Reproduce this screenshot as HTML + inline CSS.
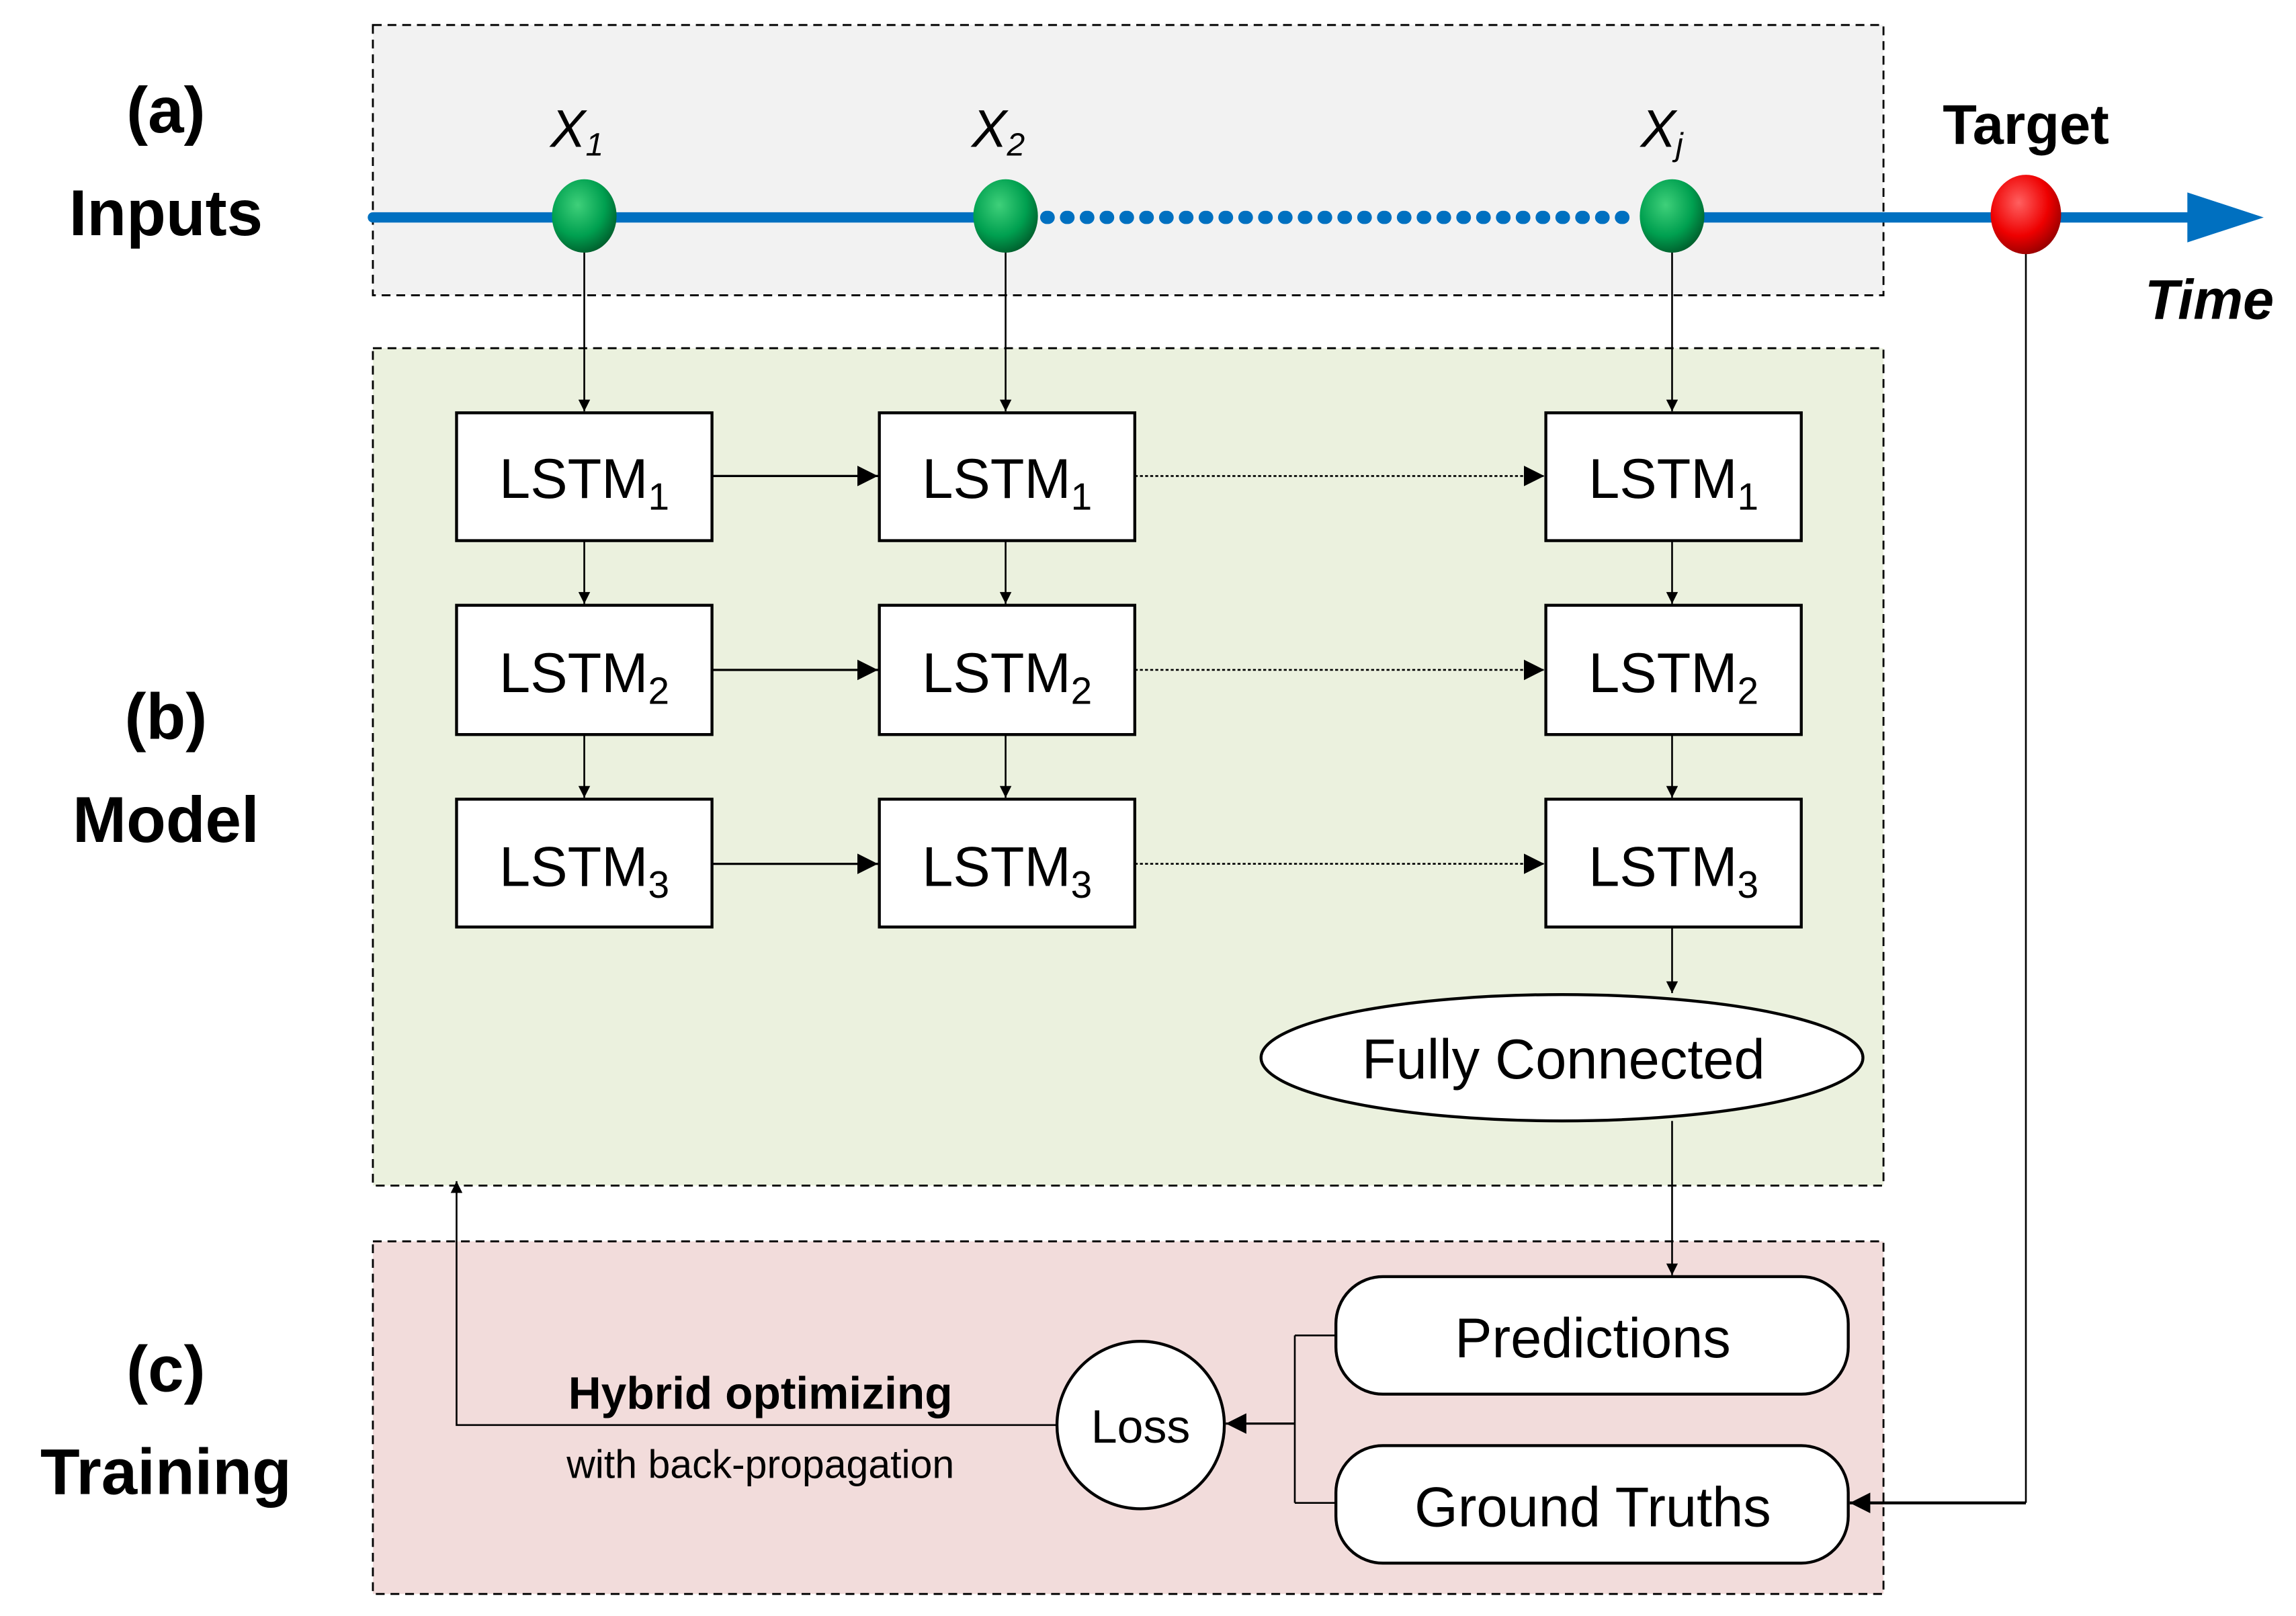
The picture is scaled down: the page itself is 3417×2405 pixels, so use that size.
<!DOCTYPE html>
<html><head><meta charset="utf-8"><style>html,body{margin:0;padding:0;background:#fff}svg{display:block}text{font-family:"Liberation Sans",sans-serif}</style></head><body>
<svg width="3417" height="2405" viewBox="0 0 1564 1100" preserveAspectRatio="none" xmlns="http://www.w3.org/2000/svg">
<defs>
<marker id="ah" viewBox="0 0 10 10" refX="10" refY="5" markerWidth="8" markerHeight="8" markerUnits="userSpaceOnUse" orient="auto"><path d="M0,0L10,5L0,10z" fill="#000"/></marker>
<marker id="ah2" viewBox="0 0 10 10" refX="10" refY="5" markerWidth="14" markerHeight="14" markerUnits="userSpaceOnUse" orient="auto"><path d="M0,0L10,5L0,10z" fill="#000"/></marker>
<radialGradient id="gg" cx="0.4" cy="0.35" r="0.7"><stop offset="0" stop-color="#3fd07a"/><stop offset="0.6" stop-color="#00a050"/><stop offset="1" stop-color="#005a2a"/></radialGradient>
<radialGradient id="rg" cx="0.4" cy="0.35" r="0.7"><stop offset="0" stop-color="#ff6060"/><stop offset="0.6" stop-color="#ee0000"/><stop offset="1" stop-color="#900000"/></radialGradient>
</defs>
<rect x="254" y="17" width="1029" height="184" fill="#f2f2f2" stroke="#000" stroke-width="1.3" stroke-dasharray="6,4"/>
<rect x="254" y="237" width="1029" height="570" fill="#ebf1de" stroke="#000" stroke-width="1.3" stroke-dasharray="6,4"/>
<rect x="254" y="845" width="1029" height="240" fill="#f2dcdb" stroke="#000" stroke-width="1.3" stroke-dasharray="6,4"/>
<g font-weight="bold" font-size="44" text-anchor="middle">
<text x="113" y="90">(a)</text><text x="113" y="160">Inputs</text>
<text x="113" y="503">(b)</text><text x="113" y="573">Model</text>
<text x="113" y="947">(c)</text><text x="113" y="1017">Training</text>
</g>
<line x1="254" y1="148" x2="685" y2="148" stroke="#0070c0" stroke-width="7" stroke-linecap="round"/>
<line x1="713" y1="148" x2="1118" y2="148" stroke="#0070c0" stroke-width="9" stroke-dasharray="1,12.5" stroke-linecap="round"/>
<line x1="1140" y1="148" x2="1495" y2="148" stroke="#0070c0" stroke-width="7"/>
<path d="M1490,131L1542,148L1490,165z" fill="#0070c0"/>
<g stroke="#000" stroke-width="1.2" fill="none">
<line x1="398" y1="170" x2="398" y2="280" marker-end="url(#ah)"/>
<line x1="685" y1="170" x2="685" y2="280" marker-end="url(#ah)"/>
<line x1="1139" y1="170" x2="1139" y2="280" marker-end="url(#ah)"/>
<line x1="1380" y1="170" x2="1380" y2="1023"/>
<line x1="1380" y1="1023" x2="1260" y2="1023" stroke-width="2" marker-end="url(#ah2)"/>
</g>
<ellipse cx="398" cy="147" rx="22" ry="25" fill="url(#gg)"/>
<ellipse cx="685" cy="147" rx="22" ry="25" fill="url(#gg)"/>
<ellipse cx="1139" cy="147" rx="22" ry="25" fill="url(#gg)"/>
<ellipse cx="1380" cy="146" rx="24" ry="27" fill="url(#rg)"/>
<g font-style="italic" font-size="36" text-anchor="middle">
<text x="393" y="100">X<tspan font-size="22" dy="6">1</tspan></text>
<text x="680" y="100">X<tspan font-size="22" dy="6">2</tspan></text>
<text x="1132" y="100">X<tspan font-size="22" dy="6">j</tspan></text>
</g>
<text x="1380" y="98" font-weight="bold" font-size="38" text-anchor="middle">Target</text>
<text x="1505" y="217" font-weight="bold" font-style="italic" font-size="38" text-anchor="middle">Time</text>
<g stroke="#000" stroke-width="1.2" fill="none">
<line x1="485" y1="324" x2="598" y2="324" stroke-width="1.5" marker-end="url(#ah2)"/>
<line x1="485" y1="456" x2="598" y2="456" stroke-width="1.5" marker-end="url(#ah2)"/>
<line x1="485" y1="588" x2="598" y2="588" stroke-width="1.5" marker-end="url(#ah2)"/>
<line x1="773" y1="324" x2="1052" y2="324" stroke-dasharray="2,1.5" marker-end="url(#ah2)"/>
<line x1="773" y1="456" x2="1052" y2="456" stroke-dasharray="2,1.5" marker-end="url(#ah2)"/>
<line x1="773" y1="588" x2="1052" y2="588" stroke-dasharray="2,1.5" marker-end="url(#ah2)"/>
<line x1="398" y1="368" x2="398" y2="411" marker-end="url(#ah)"/>
<line x1="685" y1="368" x2="685" y2="411" marker-end="url(#ah)"/>
<line x1="1139" y1="368" x2="1139" y2="411" marker-end="url(#ah)"/>
<line x1="398" y1="500" x2="398" y2="543" marker-end="url(#ah)"/>
<line x1="685" y1="500" x2="685" y2="543" marker-end="url(#ah)"/>
<line x1="1139" y1="500" x2="1139" y2="543" marker-end="url(#ah)"/>
<line x1="1139" y1="631" x2="1139" y2="676" marker-end="url(#ah)"/>
<line x1="1139" y1="763" x2="1139" y2="868" marker-end="url(#ah)"/>
<line x1="910" y1="909" x2="882" y2="909"/>
<line x1="910" y1="1023" x2="882" y2="1023"/>
<line x1="882" y1="909" x2="882" y2="1023"/>
<line x1="882" y1="969" x2="835" y2="969" stroke-width="1.5" marker-end="url(#ah2)"/>
<polyline points="720,970 311,970 311,804" marker-end="url(#ah)"/>
</g>
<g fill="#fff" stroke="#000" stroke-width="2">
<rect x="311" y="281" width="174" height="87"/><rect x="599" y="281" width="174" height="87"/><rect x="1053" y="281" width="174" height="87"/>
<rect x="311" y="412" width="174" height="88"/><rect x="599" y="412" width="174" height="88"/><rect x="1053" y="412" width="174" height="88"/>
<rect x="311" y="544" width="174" height="87"/><rect x="599" y="544" width="174" height="87"/><rect x="1053" y="544" width="174" height="87"/>
<ellipse cx="1064" cy="720" rx="205" ry="43"/>
<rect x="910" y="869" width="349" height="80" rx="32"/>
<rect x="910" y="984" width="349" height="80" rx="32"/>
<circle cx="777" cy="970" r="57"/>
</g>
<g font-size="38" text-anchor="middle">
<text x="398" y="339">LSTM<tspan font-size="26" dy="8">1</tspan></text>
<text x="686" y="339">LSTM<tspan font-size="26" dy="8">1</tspan></text>
<text x="1140" y="339">LSTM<tspan font-size="26" dy="8">1</tspan></text>
<text x="398" y="471">LSTM<tspan font-size="26" dy="8">2</tspan></text>
<text x="686" y="471">LSTM<tspan font-size="26" dy="8">2</tspan></text>
<text x="1140" y="471">LSTM<tspan font-size="26" dy="8">2</tspan></text>
<text x="398" y="603">LSTM<tspan font-size="26" dy="8">3</tspan></text>
<text x="686" y="603">LSTM<tspan font-size="26" dy="8">3</tspan></text>
<text x="1140" y="603">LSTM<tspan font-size="26" dy="8">3</tspan></text>
<text x="1065" y="734" font-size="38">Fully Connected</text>
<text x="1085" y="924" font-size="38">Predictions</text>
<text x="1085" y="1039" font-size="38">Ground Truths</text>
<text x="777" y="982" font-size="32">Loss</text>
<text x="518" y="959" font-size="31" font-weight="bold">Hybrid optimizing</text>
<text x="518" y="1006" font-size="27">with back-propagation</text>
</g>
</svg>
</body></html>
